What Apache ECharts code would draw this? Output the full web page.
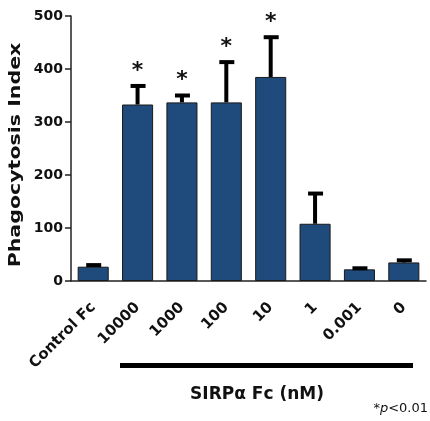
<!DOCTYPE html>
<html>
<head>
<meta charset="utf-8">
<script src="https://cdn.jsdelivr.net/npm/echarts@6/dist/echarts.min.js"></script>
<style>
html, body { margin: 0; padding: 0; background: #fff; }
#chart { width: 430px; height: 421px; }
</style>
</head>
<body>
<div id="chart"></div>
<script>
// data
const categories = ['Control Fc', '10000', '1000', '100', '10', '1', '0.001', '0'];
const means = [27, 333, 337, 337, 385, 108, 22, 35];
const errors = [3, 35, 13, 76, 75, 57, 2, 4];
const significant = [0, 1, 1, 1, 1, 0, 0, 0];
const yMax = 500;
const yStep = 100;

const barColor = '#1f4a7c';
const font = 'DejaVu Sans';

const chart = echarts.init(document.getElementById('chart'));

const option = {
    animation: false,
    backgroundColor: '#fff',
    grid: { left: 71, right: 4, top: 16, bottom: 140 },
    xAxis: {
        type: 'category',
        data: categories,
        axisLine: { lineStyle: { color: '#222', width: 1.5 } },
        axisTick: { alignWithLabel: true, length: 8, lineStyle: { color: '#222', width: 1.5 } },
        axisLabel: {
            rotate: 45,
            margin: 24,
            interval: 0,
            color: '#111',
            fontFamily: font,
            fontWeight: 'bold',
            fontSize: 15,
            padding: [0, 0, 0, 0]
        }
    },
    yAxis: {
        type: 'value',
        min: 0,
        max: yMax,
        interval: yStep,
        splitLine: { show: false },
        axisLine: { show: true, lineStyle: { color: '#222', width: 1.5 } },
        axisTick: { show: true, length: 6, lineStyle: { color: '#222', width: 1.5 } },
        axisLabel: {
            margin: 8,
            color: '#111',
            fontFamily: font,
            fontWeight: 'bold',
            fontSize: 14
        }
    },
    series: [
        {
            type: 'bar',
            data: means,
            barWidth: '70%',
            itemStyle: { color: barColor, borderColor: '#1a1a1a', borderWidth: 1 },
            z: 2
        },
        {
            // error bars + significance stars
            type: 'custom',
            data: means.map((m, i) => [i, m, m + errors[i], significant[i]]),
            z: 3,
            renderItem: function (params, api) {
                const i = api.value(0);
                const base = api.coord([i, api.value(1)]);
                const top = api.coord([i, api.value(2)]);
                const children = [
                    {
                        type: 'line',
                        shape: { x1: base[0], y1: base[1], x2: top[0], y2: top[1] },
                        style: { stroke: '#000', lineWidth: 4 }
                    },
                    {
                        type: 'line',
                        shape: { x1: top[0] - 7, y1: top[1], x2: top[0] + 8, y2: top[1] },
                        style: { stroke: '#000', lineWidth: 4 }
                    }
                ];
                if (api.value(3)) {
                    children.push({
                        type: 'text',
                        x: top[0],
                        y: top[1] - 4,
                        style: {
                            text: '*',
                            align: 'center',
                            verticalAlign: 'bottom',
                            font: 'bold 22px ' + font,
                            fill: '#111'
                        }
                    });
                }
                return { type: 'group', children: children };
            }
        }
    ],
    graphic: [
        {
            type: 'text',
            x: 16,
            y: 155,
            rotation: Math.PI / 2,
            scaleX: 1.37,
            style: {
                text: 'Phagocytosis Index',
                align: 'center',
                verticalAlign: 'middle',
                font: 'bold 15px ' + font,
                fill: '#111'
            }
        },
        {
            type: 'rect',
            shape: { x: 120, y: 363, width: 293, height: 5 },
            style: { fill: '#000' }
        },
        {
            type: 'text',
            x: 257,
            y: 395,
            style: {
                text: 'SIRPα Fc (nM)',
                align: 'center',
                verticalAlign: 'middle',
                font: 'bold 17px ' + font,
                fill: '#111'
            }
        },
        {
            type: 'text',
            x: 428,
            y: 409,
            style: {
                text: '*{i|p}<0.01',
                align: 'right',
                verticalAlign: 'middle',
                font: '13px ' + font,
                fill: '#111',
                rich: { i: { fontStyle: 'italic', fontFamily: font, fontSize: 13 } }
            }
        }
    ]
};

chart.setOption(option);
</script>
</body>
</html>
